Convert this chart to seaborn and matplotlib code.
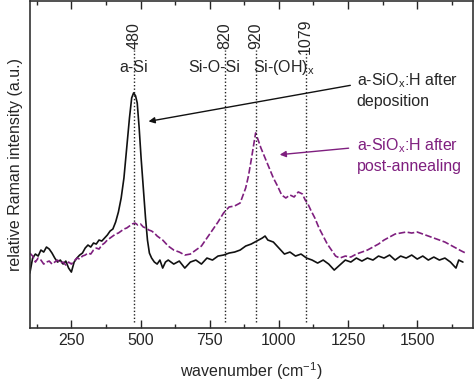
import numpy as np
import pandas as pd
import matplotlib
matplotlib.use("Agg")
import matplotlib.pyplot as plt
import matplotlib.transforms as mtransforms
import seaborn as sns

# spectrum after deposition (black)
dep_x = [100, 110, 120, 130, 140, 150, 160, 170, 180, 190, 200, 210, 220, 230, 240, 250,
         260, 270, 280, 290, 300, 310, 320, 330, 340, 350, 360, 370, 380, 390, 400, 410,
         420, 430, 440, 450, 460, 468, 475, 482, 488, 495, 502, 510, 518, 525, 532, 540,
         550, 560, 570, 580, 590, 600, 620, 640, 660, 680, 700, 720, 740, 760, 780, 800,
         820, 840, 860, 880, 900, 920, 940, 950, 960, 980, 1000, 1020, 1040, 1060, 1080,
         1100, 1120, 1140, 1160, 1180, 1200, 1220, 1240, 1260, 1280, 1300, 1320, 1340,
         1360, 1380, 1400, 1420, 1440, 1460, 1480, 1500, 1520, 1540, 1560, 1580, 1600,
         1620, 1640, 1650, 1665]
dep_y = [55, 70, 74, 72, 78, 76, 81, 79, 75, 70, 66, 68, 64, 67, 60, 56,
         66, 70, 73, 75, 80, 83, 81, 85, 84, 88, 87, 90, 93, 97, 99, 106,
         116, 130, 150, 180, 210, 230, 235, 232, 225, 200, 170, 140, 110, 88, 75, 70,
         66, 64, 68, 60, 66, 68, 64, 67, 60, 66, 68, 64, 70, 68, 72, 73,
         75, 76, 78, 82, 84, 87, 90, 92, 88, 86, 80, 74, 76, 72, 74,
         70, 68, 65, 68, 64, 58, 63, 68, 66, 70, 67, 70, 68,
         72, 70, 73, 68, 72, 70, 73, 69, 72, 68, 71, 68, 70,
         66, 60, 68, 66]

# spectrum after post-annealing (purple, dashed)
ann_x = [100, 110, 120, 130, 140, 150, 160, 170, 180, 190, 200, 210, 220, 230, 240, 250,
         260, 270, 280, 290, 300, 310, 320, 330, 340, 350, 360, 370, 380, 390, 400, 410,
         420, 430, 440, 450, 460, 470, 480, 490, 500, 510, 520, 530, 540, 550, 560, 570,
         580, 590, 600, 620, 640, 660, 680, 700, 720, 740, 760, 780, 800, 820, 840, 860,
         880, 890, 900, 910, 916, 925, 935, 950, 965, 980, 995, 1010, 1025, 1040, 1055,
         1070, 1085, 1095, 1105, 1115, 1130, 1145, 1160, 1175, 1190, 1205, 1220, 1240,
         1260, 1280, 1300, 1320, 1340, 1360, 1380, 1400, 1420, 1440, 1460, 1480, 1500,
         1520, 1540, 1560, 1580, 1600, 1620, 1640, 1660, 1675]
ann_y = [75, 72, 66, 70, 68, 64, 66, 67, 64, 66, 68, 65, 66, 63, 66, 64,
         67, 70, 69, 72, 73, 75, 74, 78, 80, 79, 83, 85, 88, 90, 92, 94,
         95, 97, 99, 100, 102, 104, 105, 103, 104, 101, 100, 98, 97, 95, 92, 90,
         88, 85, 82, 78, 76, 73, 74, 78, 82, 90, 98, 106, 115, 121, 122, 125,
         140, 152, 168, 185, 195, 188, 180, 170, 160, 150, 142, 133, 130, 133, 131,
         136, 134, 128, 124, 118, 110, 100, 92, 84, 78, 72, 70, 72,
         71, 74, 76, 78, 81, 84, 88, 91, 94, 95, 96, 95, 96,
         94, 92, 90, 88, 86, 83, 80, 77, 75]

# band positions as drawn and their labels
band_pos = [477, 805, 916, 1097]
band_labels = ["480", "820", "920", "1079"]

purple = "#7f1f7f"

sns.set_style("ticks")
plt.rcParams["font.family"] = ["Liberation Sans", "DejaVu Sans"]
plt.rcParams["mathtext.default"] = "regular"
plt.rcParams["font.size"] = 11.5

fig = plt.figure(figsize=(4.74, 3.82), dpi=100)
ax = fig.add_axes([0.063, 0.141, 0.934, 0.857])

df_dep = pd.DataFrame({"x": dep_x, "y": dep_y})
df_ann = pd.DataFrame({"x": ann_x, "y": ann_y})
sns.lineplot(data=df_dep, x="x", y="y", color="#111111", lw=1.2, ax=ax)
sns.lineplot(data=df_ann, x="x", y="y", color=purple, lw=1.2, ax=ax)
ax.lines[1].set_linestyle((0, (4, 1.5)))

ax.set_xlim(100, 1700)
ax.set_ylim(0, 327)

# dotted band lines with rotated wavenumber labels
trans = mtransforms.blended_transform_factory(ax.transData, ax.transAxes)
ax.vlines(band_pos, 6, 278, colors="#222222", linestyles=(0, (1, 1.5)), lw=1.0)
for p, lab in zip(band_pos, band_labels):
    ax.text(p, 0.893, lab, rotation=90, ha="center", va="center", transform=trans)

ax.text(477, 0.795, "a-Si", ha="center", va="center", transform=trans)
ax.text(768, 0.795, "Si-O-Si", ha="center", va="center", transform=trans)
ax.text(906, 0.795, r"Si-(OH)$_{x}$", ha="left", va="center", transform=trans)

ax.text(1281, 257, "a-SiO$_{x}$:H after\ndeposition", ha="left", va="top",
        linespacing=1.4)
ax.text(1281, 192, "a-SiO$_{x}$:H after\npost-annealing", ha="left", va="top",
        color=purple, linespacing=1.4)
ax.annotate("", xy=(519, 206), xytext=(1268, 243),
            arrowprops=dict(arrowstyle="-|>", color="#111111", lw=1.0, mutation_scale=9))
ax.annotate("", xy=(993, 173), xytext=(1262, 180),
            arrowprops=dict(arrowstyle="-|>", color=purple, lw=1.0, mutation_scale=9))

ax.set_xticks([250, 500, 750, 1000, 1250, 1500])
ax.set_xticks(np.arange(125, 1700, 250), minor=True)
ax.set_yticks([])
ax.tick_params(axis="x", which="both", direction="in", top=True)
ax.tick_params(axis="x", which="major", length=6, width=1)
ax.tick_params(axis="x", which="minor", length=3, width=1)
for s in ax.spines.values():
    s.set_visible(True)
    s.set_linewidth(1.2)
    s.set_color("#333333")

ax.set_xlabel("wavenumber (cm$^{-1}$)", labelpad=9)
ax.set_ylabel("relative Raman intensity (a.u.)", labelpad=5)

fig.savefig("out.png", dpi=100)
